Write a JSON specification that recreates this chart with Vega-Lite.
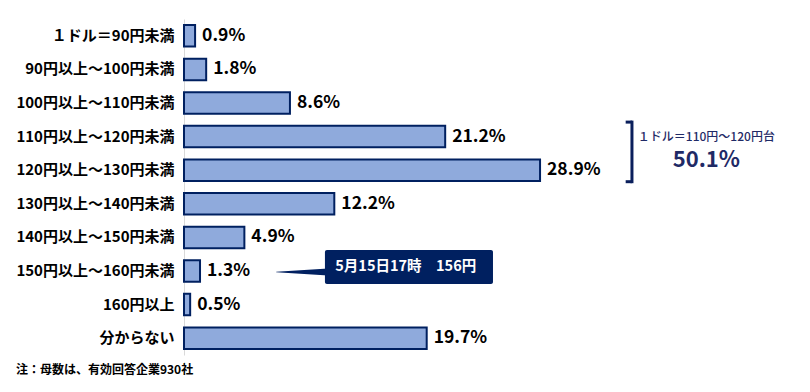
{
  "$schema": "https://vega.github.io/schema/vega-lite/v6.json",
  "width": 616,
  "height": 336,
  "autosize": {"type": "none"},
  "padding": {"left": 184, "top": 19, "right": 10, "bottom": 37},
  "background": "#ffffff",
  "config": {"font": "Noto Sans CJK JP", "view": {"stroke": null}},
  "title": {
    "text": "注：母数は、有効回答企業930社",
    "orient": "bottom",
    "anchor": "start",
    "frame": "bounds",
    "fontSize": 12,
    "fontWeight": "bold",
    "color": "#000000",
    "offset": 10
  },
  "datasets": {
    "bars": [
      {"cat": "１ドル＝90円未満", "value": 0.9},
      {"cat": "90円以上～100円未満", "value": 1.8},
      {"cat": "100円以上～110円未満", "value": 8.6},
      {"cat": "110円以上～120円未満", "value": 21.2},
      {"cat": "120円以上～130円未満", "value": 28.9},
      {"cat": "130円以上～140円未満", "value": 12.2},
      {"cat": "140円以上～150円未満", "value": 4.9},
      {"cat": "150円以上～160円未満", "value": 1.3},
      {"cat": "160円以上", "value": 0.5},
      {"cat": "分からない", "value": 19.7}
    ],
    "box": [
      {"cat": "150円以上～160円未満", "x1": 11.44, "x2": 25.08, "mid": 18.0, "text": "5月15日17時　156円"}
    ],
    "pointer": [
      {"cat": "150円以上～160円未満", "px": 7.5, "w": 0.5},
      {"cat": "150円以上～160円未満", "px": 11.7, "w": 7}
    ],
    "bracket": [
      {"cat": "110円以上～120円未満", "cat2": "120円以上～130円未満", "bx": 36.36, "xl": 35.85, "tx": 42.4, "sub": "１ドル＝110円～120円台", "big": "50.1%"}
    ]
  },
  "encoding": {
    "y": {
      "field": "cat",
      "type": "nominal",
      "sort": null,
      "scale": {
        "domain": ["１ドル＝90円未満", "90円以上～100円未満", "100円以上～110円未満", "110円以上～120円未満", "120円以上～130円未満", "130円以上～140円未満", "140円以上～150円未満", "150円以上～160円未満", "160円以上", "分からない"],
        "paddingInner": 0.36,
        "paddingOuter": 0.18
      },
      "axis": {
        "title": null,
        "domainColor": "#d9d9d9",
        "domainWidth": 1,
        "ticks": false,
        "grid": false,
        "labelFontSize": 15,
        "labelFontWeight": "bold",
        "labelColor": "#000000",
        "labelPadding": 10
      }
    }
  },
  "layer": [
    {
      "data": {"name": "bars"},
      "mark": {"type": "bar", "fill": "#8FAADC", "stroke": "#002060", "strokeWidth": 2},
      "encoding": {
        "x": {"field": "value", "type": "quantitative", "scale": {"domain": [0, 50], "nice": false}, "axis": null}
      }
    },
    {
      "data": {"name": "bars"},
      "transform": [{"calculate": "format(datum.value, '.1f') + '%'", "as": "label"}],
      "mark": {"type": "text", "align": "left", "baseline": "middle", "dx": 7, "fontSize": 17.5, "fontWeight": "bold", "color": "#000000"},
      "encoding": {
        "x": {"field": "value", "type": "quantitative", "scale": {"domain": [0, 50], "nice": false}, "axis": null},
        "text": {"field": "label"}
      }
    },
    {
      "data": {"name": "bracket"},
      "mark": {"type": "rule", "stroke": "#0A1F5C", "strokeWidth": 3, "yOffset": -16, "y2Offset": 13},
      "encoding": {
        "x": {"field": "bx", "type": "quantitative", "scale": {"domain": [0, 50], "nice": false}, "axis": null},
        "y2": {"field": "cat2"}
      }
    },
    {
      "data": {"name": "bracket"},
      "mark": {"type": "rule", "stroke": "#0A1F5C", "strokeWidth": 3, "yOffset": -14.5},
      "encoding": {
        "x": {"field": "xl", "type": "quantitative", "scale": {"domain": [0, 50], "nice": false}, "axis": null},
        "x2": {"field": "bx"}
      }
    },
    {
      "data": {"name": "bracket"},
      "mark": {"type": "rule", "stroke": "#0A1F5C", "strokeWidth": 3, "yOffset": 11.5},
      "encoding": {
        "x": {"field": "xl", "type": "quantitative", "scale": {"domain": [0, 50], "nice": false}, "axis": null},
        "x2": {"field": "bx"},
        "y": {"field": "cat2", "type": "nominal", "sort": null}
      }
    },
    {
      "data": {"name": "bracket"},
      "mark": {"type": "text", "align": "center", "baseline": "middle", "fontSize": 12, "fontWeight": 500, "color": "#1F2A66"},
      "encoding": {
        "x": {"field": "tx", "type": "quantitative", "scale": {"domain": [0, 50], "nice": false}, "axis": null},
        "text": {"field": "sub"}
      }
    },
    {
      "data": {"name": "bracket"},
      "mark": {"type": "text", "align": "center", "baseline": "middle", "fontSize": 22, "fontWeight": "bold", "color": "#1F2A66", "yOffset": -10},
      "encoding": {
        "x": {"field": "tx", "type": "quantitative", "scale": {"domain": [0, 50], "nice": false}, "axis": null},
        "y": {"field": "cat2", "type": "nominal", "sort": null},
        "text": {"field": "big"}
      }
    },
    {
      "data": {"name": "pointer"},
      "mark": {"type": "trail", "color": "#002060", "yOffset": 1},
      "encoding": {
        "x": {"field": "px", "type": "quantitative", "scale": {"domain": [0, 50], "nice": false}, "axis": null},
        "size": {"field": "w", "type": "quantitative", "scale": null, "legend": null}
      }
    },
    {
      "data": {"name": "box"},
      "mark": {"type": "bar", "color": "#002060", "size": 34, "yOffset": -4, "cornerRadius": 2},
      "encoding": {
        "x": {"field": "x1", "type": "quantitative", "scale": {"domain": [0, 50], "nice": false}, "axis": null},
        "x2": {"field": "x2"}
      }
    },
    {
      "data": {"name": "box"},
      "mark": {"type": "text", "align": "center", "baseline": "middle", "fontSize": 14.5, "fontWeight": "bold", "color": "#ffffff", "yOffset": -4},
      "encoding": {
        "x": {"field": "mid", "type": "quantitative", "scale": {"domain": [0, 50], "nice": false}, "axis": null},
        "text": {"field": "text"}
      }
    }
  ]
}
